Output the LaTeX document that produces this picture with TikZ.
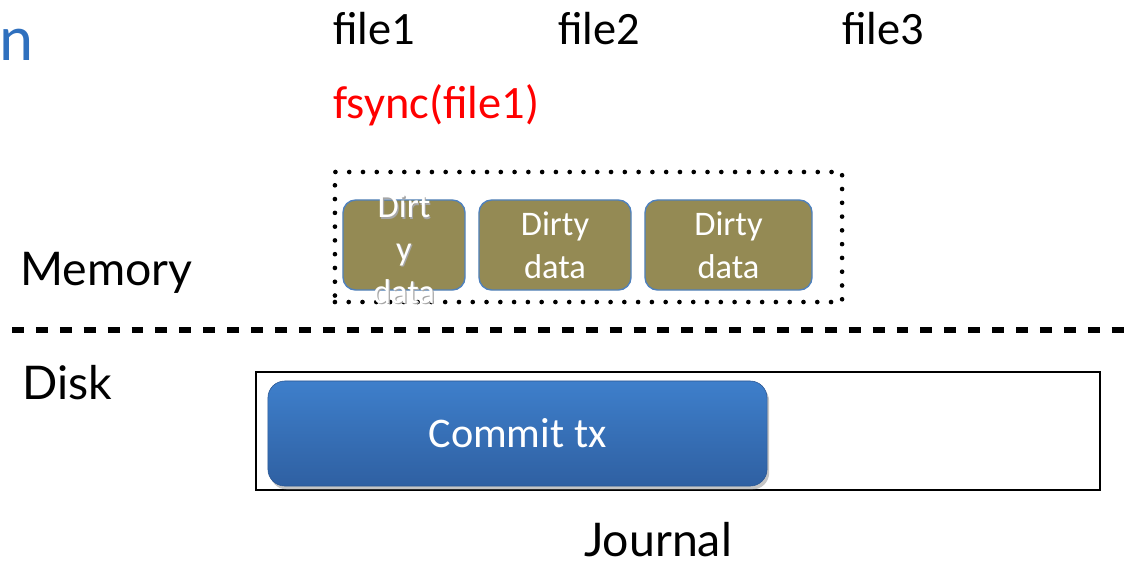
\documentclass[tikz,border=0pt]{standalone}
\usepackage{fontspec}
\setmainfont{Carlito}
\newfontfamily\gill{Lato}
\usetikzlibrary{shadows}
\definecolor{olivebox}{RGB}{148,138,84}
\definecolor{boxborder}{RGB}{79,129,189}
\definecolor{titleblue}{RGB}{47,112,190}
\definecolor{ctop}{RGB}{62,127,203}
\definecolor{cbot}{RGB}{47,96,162}
\tikzset{
  lbl/.style={font=\fontsize{33pt}{38pt}\selectfont, inner sep=0pt},
  gilllbl/.style={font=\gill\fontsize{33pt}{38pt}\selectfont, inner sep=0pt},
  dirtybox/.style={draw=boxborder, line width=1pt, fill=olivebox, rounded corners=9pt,
     minimum height=2.25cm, text=white, align=center, inner sep=0pt,
     font=\fontsize{24.5pt}{30.5pt}\selectfont},
  dirtytext/.style={text=white, align=center, inner sep=0pt,
     font=\fontsize{24.5pt}{30.5pt}\selectfont},
  dotbox/.style={draw, line width=3.3pt, line cap=round, dash pattern=on 0pt off 9.8pt,
     minimum width=12.675cm, minimum height=3.25cm, inner sep=0pt},
  sep/.style={line width=3.8pt, dash pattern=on 8.5pt off 8.5pt},
  journalbox/.style={draw, line width=1.4pt, minimum width=21.1cm, minimum height=2.95cm, inner sep=0pt},
  commitbox/.style={rounded corners=12pt, top color=ctop, bottom color=cbot, draw=cbot!90!black, line width=0.4pt,
     minimum width=12.475cm, minimum height=2.625cm, inner sep=0pt, text=white,
     font=\fontsize{30pt}{36pt}\selectfont,
     drop shadow={shadow xshift=1.5pt, shadow yshift=-2.5pt, fill=black!45, opacity=0.5}},
}
\begin{document}
\begin{tikzpicture}[x=0.025cm, y=-0.025cm]
\useasboundingbox (0,0) rectangle (1128,568);
\node[lbl, text=titleblue, font=\fontsize{46pt}{50pt}\selectfont, anchor=base west] (title) at (-1,60) {n};
\node[lbl, anchor=base west] (f1) at (333,44) {file1};
\node[lbl, anchor=base west] (f2) at (558,44) {file2};
\node[lbl, anchor=base west] (f3) at (842,44) {file3};
\node[lbl, text=red, anchor=base west] (fs) at (333,118) {fsync(file1)};

\node[dotbox] (grp) at (588.5,237) {};
\node[dirtybox, minimum width=3.05cm] (b1) at (404,245) {};
\node[dirtytext, text=black!35] (b1s) at (405.2,250.2) {Dirt\\y\\data};
\node[dirtytext] (b1t) at (404,249) {Dirt\\y\\data};
\node[dirtybox, minimum width=3.8cm] (b2) at (555,245) {Dirty\\data};
\node[dirtybox, minimum width=4.175cm] (b3) at (728.5,245) {Dirty\\data};

\node[gilllbl, anchor=base west] (mem) at (20,285) {Memory};
\coordinate (dl) at (12,330);
\coordinate (dr) at (1128,330);
\draw[sep] (dl) -- (dr);
\node[gilllbl, anchor=base west] (disk) at (22,399) {Disk};

\node[journalbox] (jr) at (678,431) {};
\node[commitbox] (ct) at (517.5,433.5) {Commit tx};
\node[gilllbl, anchor=base] (jl) at (658,556) {Journal};
\end{tikzpicture}
\end{document}
